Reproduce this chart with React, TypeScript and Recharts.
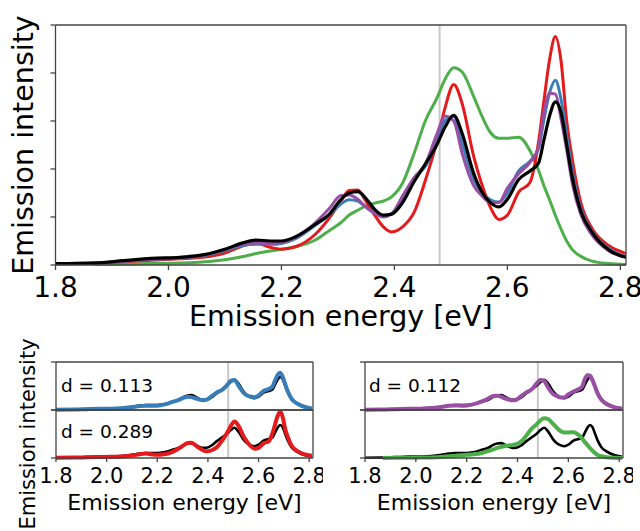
import { Line, LineChart, ReferenceLine, XAxis, YAxis } from "recharts";

// photon energy grid [eV]
const energy = [
  1.8, 1.87, 1.92, 1.97, 2.02, 2.06, 2.1, 2.13, 2.155, 2.18, 2.2, 2.225, 2.26,
  2.285, 2.305, 2.32, 2.335, 2.35, 2.365, 2.38, 2.395, 2.415, 2.435, 2.455,
  2.475, 2.49, 2.505, 2.52, 2.54, 2.555, 2.57, 2.585, 2.6, 2.62, 2.64, 2.655,
  2.665, 2.675, 2.685, 2.695, 2.705, 2.715, 2.73, 2.75, 2.78, 2.81,
];

// reference spectrum (black)
const reference = [
  0.03, 0.04, 0.09, 0.14, 0.16, 0.21, 0.33, 0.455, 0.52, 0.5, 0.5, 0.59, 0.85,
  1.06, 1.36, 1.5, 1.53, 1.38, 1.16, 1.04, 1.06, 1.31, 1.74, 2.11, 2.5, 2.88,
  3.12, 2.74, 1.92, 1.52, 1.3, 1.21, 1.37, 1.78, 1.96, 2.12, 2.62, 3.12, 3.4,
  3.18, 2.5, 1.82, 1.12, 0.68, 0.31, 0.16,
];
const red = [
  0.03, 0.04, 0.07, 0.1, 0.13, 0.16, 0.25, 0.39, 0.46, 0.37, 0.33, 0.38, 0.64,
  0.98, 1.33, 1.55, 1.56, 1.32, 1.04, 0.8, 0.69, 0.8, 1.1, 1.77, 2.56, 3.29,
  3.76, 3.36, 2.28, 1.67, 1.2, 0.95, 1.04, 1.52, 1.72, 2.55, 3.45, 4.3, 4.76,
  4.25, 3.0, 2.2, 1.3, 0.76, 0.4, 0.24,
];
const blue = [
  0.03, 0.04, 0.08, 0.12, 0.14, 0.19, 0.3, 0.4, 0.43, 0.43, 0.45, 0.55, 0.83,
  1.04, 1.27, 1.36, 1.33, 1.2, 1.08, 1.01, 1.07, 1.42, 1.82, 2.06, 2.55, 3.01,
  3.1, 2.53, 1.8, 1.5, 1.36, 1.31, 1.5, 1.96, 2.16, 2.42, 3.05, 3.6, 3.85,
  3.45, 2.7, 1.95, 1.18, 0.7, 0.34, 0.17,
];
const purple = [
  0.03, 0.04, 0.08, 0.12, 0.14, 0.2, 0.32, 0.43, 0.46, 0.45, 0.47, 0.58, 0.88,
  1.18, 1.45, 1.46, 1.37, 1.2, 1.08, 1.0, 1.06, 1.45, 1.82, 2.11, 2.72, 3.1,
  3.0, 2.32, 1.66, 1.44, 1.3, 1.3, 1.6, 1.9, 2.14, 2.45, 3.2, 3.58, 3.56, 3.05,
  2.4, 1.7, 1.05, 0.62, 0.29, 0.16,
];
const green = [
  null, 0.01, 0.02, 0.03, 0.04, 0.06, 0.11, 0.17, 0.24, 0.29, 0.33, 0.38, 0.52,
  0.72, 0.88, 1.04, 1.14, 1.23, 1.29, 1.33, 1.42, 1.72, 2.33, 3.01, 3.47, 3.88,
  4.11, 4.02, 3.52, 3.1, 2.76, 2.64, 2.64, 2.66, 2.38, 1.98, 1.64, 1.35, 1.03,
  0.75, 0.5, 0.32, 0.18, 0.08, 0.03, 0.01,
];

const energyTicks = [1.8, 2.0, 2.2, 2.4, 2.6, 2.8];
const intensityTicks = [0, 1, 2, 3, 4, 5];
const thresholdEnergy = 2.48;
const distances = ["d = 0.113", "d = 0.289", "d = 0.112"];

const rows = energy.map((e, i) => ({
  energy: e,
  reference: reference[i],
  red: red[i],
  blue: blue[i],
  purple: purple[i],
  green: green[i],
}));

const colors: Record<string, string> = {
  red: "#e41a1c",
  blue: "#377eb8",
  purple: "#984ea3",
  green: "#4daf4a",
};

const font = "DejaVu Sans";
const edge = { stroke: "#444", strokeWidth: 1.3 };
const fmt = (v: number) => v.toFixed(1);
const blank = () => "";

function MainChart() {
  return (
    <LineChart
      width={640}
      height={345}
      data={rows}
      margin={{ top: 24, right: 13, bottom: 20, left: 54.5 }}
    >
      <XAxis
        dataKey="energy"
        type="number"
        domain={[1.8, 2.81]}
        ticks={energyTicks}
        tickFormatter={fmt}
        allowDataOverflow
        axisLine={edge}
        tickLine={edge}
        tickSize={5}
        tickMargin={7}
        height={60}
        tick={{ fontSize: 28, fill: "#000", fontFamily: font }}
        label={{
          value: "Emission energy [eV]",
          position: "insideBottom",
          offset: -1,
          fontSize: 28.5,
          fill: "#000",
          fontFamily: font,
        }}
      />
      <XAxis
        xAxisId="top"
        orientation="top"
        type="number"
        domain={[1.8, 2.81]}
        tick={false}
        tickLine={false}
        axisLine={edge}
        height={1}
      />
      <YAxis
        type="number"
        domain={[0, 5]}
        ticks={intensityTicks}
        tickFormatter={blank}
        width={1}
        tickSize={5}
        axisLine={edge}
        tickLine={edge}
      />
      <YAxis
        yAxisId="right"
        orientation="right"
        domain={[0, 5]}
        tick={false}
        tickLine={false}
        axisLine={edge}
        width={1}
      />
      <ReferenceLine x={thresholdEnergy} stroke="#c8c8c8" strokeWidth={2} />
      {["green", "red", "blue", "purple"].map((k) => (
        <Line
          key={k}
          dataKey={k}
          type="monotone"
          stroke={colors[k]}
          strokeWidth={3}
          dot={false}
          isAnimationActive={false}
        />
      ))}
      <Line
        dataKey="reference"
        type="monotone"
        stroke="#000"
        strokeWidth={3.2}
        dot={false}
        isAnimationActive={false}
      />
    </LineChart>
  );
}

function SubPlot({
  series,
  left,
  top,
  withAxis,
}: {
  series: string;
  left: number;
  top: number;
  withAxis: boolean;
}) {
  const plotW = left === 0 ? 257 : 258;
  return (
    <div style={{ position: "absolute", left, top }}>
      <LineChart
        width={55 + 1 + plotW + 1 + 9}
        height={withAxis ? 122 : 60}
        data={rows}
        margin={{ top: 9, right: 9, bottom: withAxis ? 12 : 1, left: 55 }}
      >
        <XAxis
          dataKey="energy"
          type="number"
          domain={[1.8, 2.815]}
          ticks={energyTicks}
          tickFormatter={fmt}
          allowDataOverflow
          axisLine={edge}
          tickLine={withAxis ? edge : false}
          tickSize={4}
          tickMargin={6}
          height={withAxis ? 52 : 1}
          tick={withAxis ? { fontSize: 21, fill: "#000", fontFamily: font } : false}
          label={
            withAxis
              ? {
                  value: "Emission energy [eV]",
                  position: "insideBottom",
                  offset: 0,
                  fontSize: 22,
                  fill: "#000",
                  fontFamily: font,
                }
              : undefined
          }
        />
        <XAxis
          xAxisId="top"
          orientation="top"
          type="number"
          domain={[1.8, 2.815]}
          tick={false}
          tickLine={false}
          axisLine={edge}
          height={1}
        />
        <YAxis
          type="number"
          domain={[0, 4.95]}
          ticks={[0, 4.95]}
          tickFormatter={blank}
          width={1}
          tickSize={5}
          axisLine={edge}
          tickLine={edge}
        />
        <YAxis
          yAxisId="right"
          orientation="right"
          domain={[0, 4.95]}
          tick={false}
          tickLine={false}
          axisLine={edge}
          width={1}
        />
        <ReferenceLine x={thresholdEnergy} stroke="#c8c8c8" strokeWidth={2} />
        <Line
          dataKey="reference"
          type="monotone"
          stroke="#000"
          strokeWidth={2.6}
          dot={false}
          isAnimationActive={false}
        />
        <Line
          dataKey={series}
          type="monotone"
          stroke={colors[series]}
          strokeWidth={4}
          dot={false}
          isAnimationActive={false}
        />
      </LineChart>
    </div>
  );
}

export default function App() {
  return (
    <div
      style={{
        position: "absolute",
        left: 0,
        top: 0,
        width: 640,
        height: 531,
        overflow: "hidden",
        background: "#fff",
        fontFamily: font,
      }}
    >
      <div style={{ position: "absolute", left: 0, top: 0 }}>
        <MainChart />
      </div>
      <SubPlot series="blue" left={0} top={352} withAxis={false} />
      <SubPlot series="red" left={0} top={400} withAxis />
      <SubPlot series="purple" left={309} top={352} withAxis={false} />
      <SubPlot series="green" left={309} top={400} withAxis />
      <svg
        width={640}
        height={531}
        style={{ position: "absolute", left: 0, top: 0, pointerEvents: "none" }}
        fontFamily={font}
      >
        <text
          transform="translate(33,145) rotate(-90)"
          textAnchor="middle"
          fontSize={28.5}
          fill="#000"
        >
          Emission intensity
        </text>
        <text
          transform="translate(35,434) rotate(-90)"
          textAnchor="middle"
          fontSize={21}
          fill="#000"
        >
          Emission intensity
        </text>
        <text x={61} y={392} fontSize={18.5} fill="#000">
          {distances[0]}
        </text>
        <text x={61} y={438} fontSize={18.5} fill="#000">
          {distances[1]}
        </text>
        <text x={369} y={392} fontSize={18.5} fill="#000">
          {distances[2]}
        </text>
      </svg>
    </div>
  );
}
